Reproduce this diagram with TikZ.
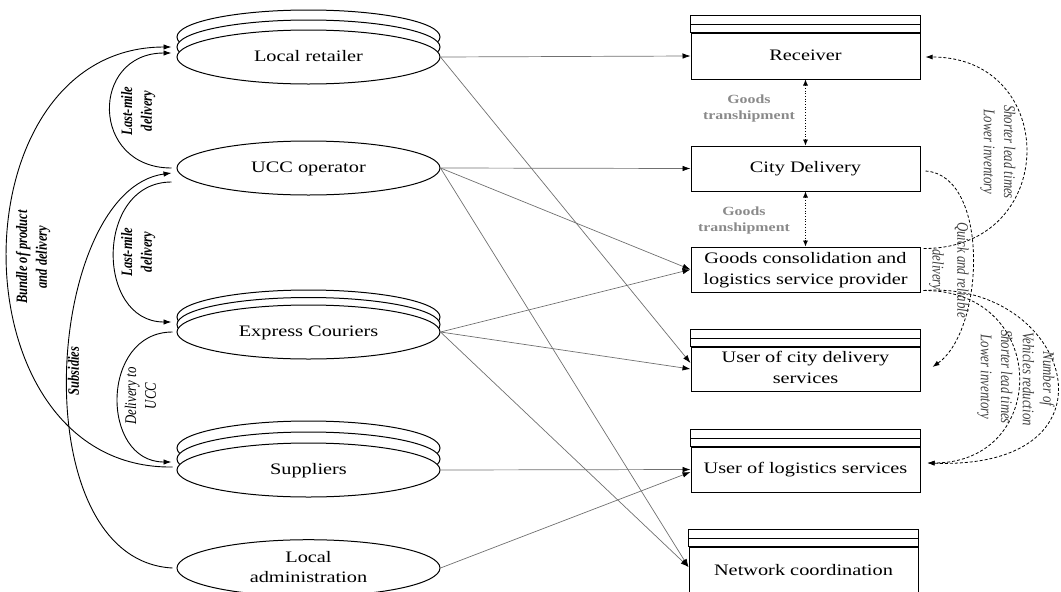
\documentclass[tikz,border=0pt]{standalone}
\usepackage{fontspec}
\setmainfont{Liberation Serif}
\usepackage{graphicx}
\usetikzlibrary{arrows.meta,shapes.geometric,calc}
\definecolor{linegray}{HTML}{707070}
\definecolor{labgray}{HTML}{404040}
\definecolor{tgray}{HTML}{8A8A8A}
\newcommand{\hs}[1]{\scalebox{1.27}[1]{\begin{tabular}{@{}c@{}}#1\end{tabular}}}
\newcommand{\vs}[1]{\scalebox{1}[1.27]{\begin{tabular}{@{}c@{}}#1\end{tabular}}}
\begin{document}
\begin{tikzpicture}[x=1pt,y=-1pt,
 ell/.style={ellipse,draw,line width=1pt,fill=white,minimum width=263pt,minimum height=54pt,inner sep=0pt,font=\fontsize{16}{20}\selectfont},
 box/.style={rectangle,draw,line width=1pt,fill=white,minimum width=229pt,inner sep=0pt,font=\fontsize{16}{21}\selectfont},
 conn/.style={draw=linegray,line width=0.7pt,-{Latex[length=8pt,width=5.5pt,black]}},
 carr/.style={draw=black,line width=0.9pt,-{Latex[length=8pt,width=5.5pt]}},
 darr/.style={draw=black,line width=0.8pt,dash pattern=on 3pt off 2pt,-{Latex[length=7pt,width=5pt]}},
 tarr/.style={draw=black,line width=0.7pt,dotted,{Latex[length=6pt,width=5pt]}-{Latex[length=6pt,width=5pt]}},
 llab/.style={rotate=90,font=\fontsize{12.5}{15.5}\selectfont\bfseries\itshape,inner sep=0pt},
 rlab/.style={rotate=-90,font=\fontsize{12.8}{16}\selectfont\itshape,text=labgray,inner sep=0pt},
 glab/.style={font=\fontsize{12.5}{16}\selectfont\bfseries,text=tgray,inner sep=0pt}
]
\useasboundingbox (0,0) rectangle (1061,592);

% ellipses
\node[ell] (lrb2) at (308.5,37) {};
\node[ell] (lrb1) at (308.5,47) {};
\node[ell] (lr) at (308.5,57) {\hs{Local retailer}};
\node[ell] (ucc) at (308.5,168) {\hs{UCC operator}};
\node[ell] (ecb2) at (308.5,317) {};
\node[ell] (ecb1) at (308.5,324.5) {};
\node[ell] (ec) at (308.5,332) {\hs{Express Couriers}};
\node[ell] (supb2) at (308.5,448) {};
\node[ell] (supb1) at (308.5,459) {};
\node[ell] (sup) at (308.5,470) {\hs{Suppliers}};
\node[ell] (la) at (308.5,568) {\hs{Local\\administration}};

% boxes
\node[box,minimum height=46pt] (rec) at (805.5,56) {\hs{Receiver}};
\node[box,minimum height=45pt] (cd) at (805.5,168.5) {\hs{City Delivery}};
\node[box,minimum height=45pt] (gc) at (805.5,269.5) {\hs{Goods consolidation and\\logistics service provider}};
\node[box,minimum height=44pt] (ucd) at (805.5,369) {\hs{User of city delivery\\services}};
\node[box,minimum height=45pt] (uls) at (805.5,469.5) {\hs{User of logistics services}};
\node[box,minimum height=49pt] (nc) at (803.5,571.5) {\hs{Network coordination}};
\foreach \n in {rec,ucd,uls,nc}{
  \draw[line width=1pt] ([yshift=17pt]\n.north west) rectangle (\n.north east);
  \draw[line width=1pt] ([yshift=8.5pt]\n.north west) -- ([yshift=8.5pt]\n.north east);
}

% straight connectors
\draw[conn] (lr.east) -- (rec.west);
\draw[conn] (lr.east) -- ([yshift=6pt]ucd.west);
\draw[conn] (ucc.east) -- (cd.west);
\draw[conn] (ucc.east) -- (gc.west);
\draw[conn] (ucc.east) -- ([yshift=4.5pt]nc.west);
\draw[conn] (ec.east) -- (gc.west);
\draw[conn] (ec.east) -- (ucd.west);
\draw[conn] (ec.east) -- ([yshift=4.5pt]nc.west);
\draw[conn] (sup.east) -- (uls.west);
\draw[conn] (la.east) -- ([yshift=-2.5pt]uls.west);

% transhipment
\draw[tarr] (rec.south) -- (cd.north);
\draw[tarr] (cd.south) -- (gc.north);
\node[glab] (gt1) at (749,108) {\hs{Goods\\transhipment}};
\node[glab] (gt2) at (744,220) {\hs{Goods\\transhipment}};

% left curves
\draw[carr] ([xshift=-5pt]ucc.west) .. controls (90,168) and (90,53) .. ([xshift=-5pt,yshift=4pt]lr.west);
\draw[carr] ([xshift=-5pt,yshift=-14pt]ucc.west) .. controls (95,182) and (95,322) .. ([xshift=-5pt,yshift=10pt]ec.west);
\draw[carr] ([xshift=-4pt]ec.west) .. controls (100,332) and (100,462) .. ([xshift=-5pt,yshift=8pt]sup.west);
\draw[carr] ([xshift=-4pt,yshift=3pt]sup.west) .. controls (-48,470) and (-48,47) .. ([xshift=-5pt,yshift=10pt]lr.west);
\draw[carr] ([xshift=-4pt]la.west) .. controls (20,560) and (45,190) .. ([xshift=-5pt,yshift=-5pt]ucc.west);

\node[llab] (l1) at (138,111) {\vs{Last-mile\\delivery}};
\node[llab] (l2) at (138,252) {\vs{Last-mile\\delivery}};
\node[llab,font=\fontsize{12.8}{15.5}\selectfont\itshape] (l3) at (142,396) {\vs{Delivery to\\UCC}};
\node[llab] (l4) at (75,371) {\vs{Subsidies}};
\node[llab] (l5) at (33,257) {\vs{Bundle of product\\and delivery}};

% right dashed curves
\draw[darr] ([xshift=3pt,yshift=-2pt]gc.north east) .. controls (1060,249) and (1060,57) .. ([xshift=5pt,yshift=-1pt]rec.east);
\draw[darr] ([xshift=5pt,yshift=-2.5pt]cd.east) .. controls (990,175) and (985,330) .. ([xshift=12pt,yshift=2pt]ucd.east);
\draw[darr] ([xshift=3pt,yshift=2pt]gc.south east) .. controls (1050,290) and (1050,463) .. ([xshift=7pt,yshift=6.5pt]uls.east);
\draw[darr] ([xshift=3pt,yshift=2pt]gc.south east) .. controls (1070,280) and (1130,470) .. ([xshift=7pt,yshift=6.5pt]uls.east);

\node[rlab] (r1) at (998,152) {\vs{Shorter lead times\\Lower inventory}};
\node[rlab,font=\fontsize{12.8}{19.5}\selectfont\itshape] (r2) at (950,270) {\vs{Quick and reliable\\delivery}};
\node[rlab] (r3) at (1037,379) {\vs{Number of\\Vehicles reduction}};
\node[rlab] (r4) at (995,377) {\vs{Shorter lead times\\Lower inventory}};
\end{tikzpicture}
\end{document}
